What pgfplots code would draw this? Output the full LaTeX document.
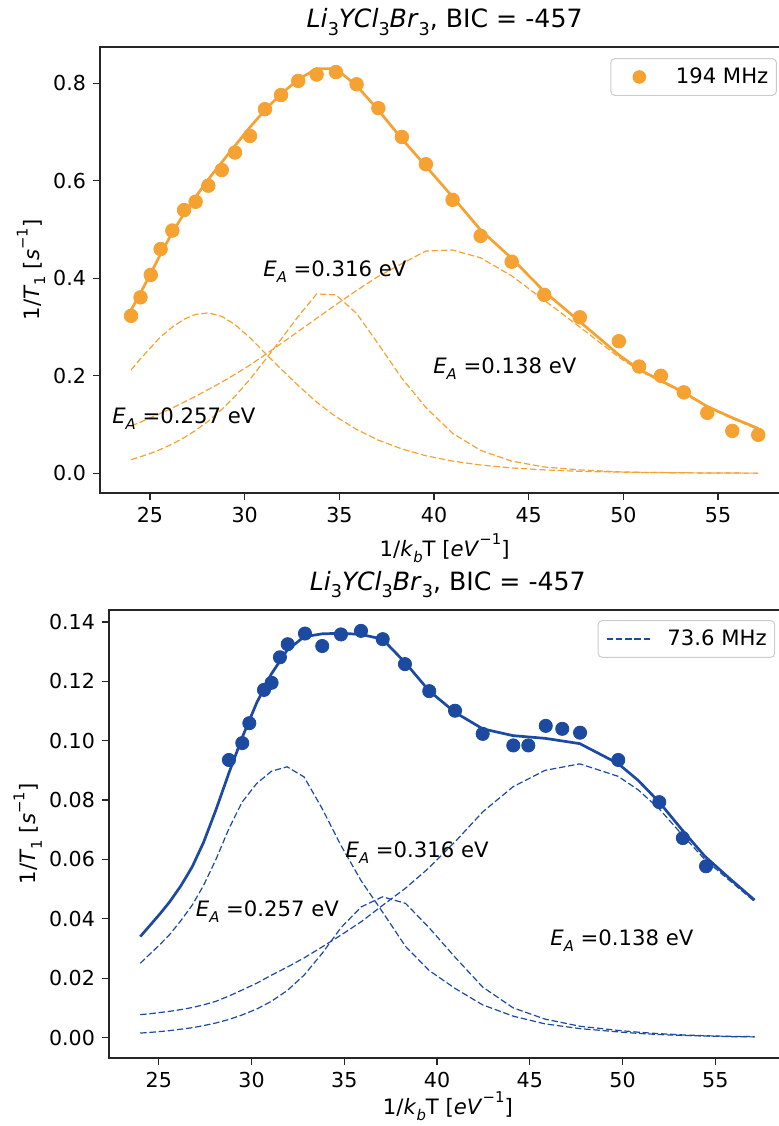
\documentclass[border=0pt]{standalone}
\usepackage{fontspec}
\setmainfont{DejaVu Sans}
\usepackage{pgfplots}
\pgfplotsset{compat=1.18}
\definecolor{myorange}{RGB}{246,162,50}
\definecolor{myblue}{RGB}{27,74,160}
\newcommand{\sub}[1]{\raisebox{-0.28em}{\scalebox{0.7}{#1}}}
\newcommand{\sups}[1]{\raisebox{0.55em}{\scalebox{0.7}{#1}}}
\newcommand{\EA}{\textit{E}\sub{\textit{A}} =}
\tikzset{dashfit/.style={line width=0.6pt, dash pattern=on 3.2pt off 1.4pt}}
\pgfplotsset{
  myaxis/.style={
    scale only axis,
    axis line style={line width=0.8pt, black!85},
    tick align=outside,
    tick pos=left,
    major tick length=3.5pt,
    tick style={line width=0.6pt, black!85},
    xtick={25,30,35,40,45,50,55},
    tick label style={font=\fontsize{10.3}{12}\selectfont},
    /pgf/number format/assume math mode=true,
    label style={font=\fontsize{10.6}{12}\selectfont},
    title style={font=\fontsize{12.6}{15}\selectfont, at={(0.5,1)}, anchor=base, yshift=3.5pt},
    xlabel={1/\textit{k}\sub{\textit{b}}T [\textit{eV}\sups{−1}]},
    ylabel={1/\textit{T}\sub{1} [\textit{s}\sups{−1}]},
    title={\textit{Li}\sub{3}\textit{YCl}\sub{3}\textit{Br}\sub{3}, BIC = -457},
    legend style={draw=black!20, line width=0.5pt, rounded corners=2pt, fill=white,
      font=\fontsize{10.6}{12}\selectfont, inner xsep=4pt, inner ysep=4.5pt,
      nodes={inner sep=0pt}, /tikz/every odd column/.append style={column sep=8pt}},
  },
}
\begin{document}
\begin{tikzpicture}[font=\fontsize{10.6}{12.5}\selectfont]
% ---------------- top panel ----------------
\begin{axis}[myaxis,
  at={(50pt,539.5pt)}, anchor=north west,
  width=344.65pt, height=223pt,
  xmin=22.36, xmax=58.76, ymin=-0.0404, ymax=0.8745,
  ytick={0,0.2,0.4,0.6,0.8},
  yticklabel style={/pgf/number format/.cd, fixed, fixed zerofill, precision=1},
  xlabel style={at={(axis description cs:0.5,-0.1233)}, anchor=center},
  ylabel style={at={(axis description cs:-0.1001,0.5)}, anchor=center},
  legend style={at={(0.982,0.975)}, anchor=north east},
]
\addplot[only marks, mark=*, mark size=3.4pt, mark options={draw=myorange, fill=myorange},
  legend image code/.code={\path[draw=none, fill=none] (0pt,0pt) -- (20.5pt,0pt); \fill[myorange, draw=none] (10.25pt,0pt) circle (3.4pt);}]
coordinates {
(24.0,0.323) (24.5,0.361) (25.04,0.407) (25.56,0.460) (26.18,0.498) (26.8,0.540)
(27.41,0.557) (28.08,0.590) (28.79,0.622) (29.49,0.658) (30.28,0.692) (31.07,0.747)
(31.92,0.776) (32.83,0.805) (33.8,0.818) (34.82,0.823) (35.91,0.798) (37.06,0.749)
(38.3,0.690) (39.57,0.634) (40.98,0.561) (42.46,0.487) (44.1,0.434) (45.82,0.366)
(47.7,0.320) (49.76,0.271) (50.83,0.219) (51.98,0.200) (53.19,0.166) (54.43,0.124)
(55.75,0.087) (57.12,0.079)};
\addlegendentry{194 MHz}
\addplot[myorange, line width=1.35pt, forget plot] coordinates {
(24.0,0.335) (24.5,0.370) (25.04,0.410) (25.56,0.450) (26.18,0.494) (26.8,0.533)
(27.41,0.567) (28.08,0.603) (28.79,0.638) (29.49,0.672) (30.28,0.710) (31.07,0.745)
(31.92,0.778) (32.83,0.808) (33.8,0.830) (34.82,0.830) (35.91,0.795) (37.06,0.745)
(38.3,0.686) (39.57,0.630) (40.98,0.567) (42.46,0.499) (44.1,0.441) (45.82,0.373)
(47.7,0.311) (49.76,0.243) (50.83,0.213) (51.98,0.190) (53.19,0.166) (54.43,0.137)
(55.75,0.114) (57.12,0.092)};
% E_A = 0.257 eV
\addplot[myorange, dashfit, forget plot] coordinates {
(24.0,0.212) (24.5,0.235) (25.04,0.258) (25.56,0.280) (26.18,0.300) (26.8,0.316)
(27.41,0.326) (28.08,0.329) (28.79,0.322) (29.49,0.305) (30.28,0.278) (31.07,0.247)
(31.92,0.214) (32.83,0.180) (33.8,0.146) (34.82,0.116) (35.91,0.090) (37.06,0.068)
(38.3,0.050) (39.57,0.036) (40.98,0.025) (42.46,0.017) (44.1,0.011) (45.82,0.007)
(47.7,0.004) (49.76,0.0025) (50.83,0.002) (51.98,0.0015) (53.19,0.001) (54.43,0.0007)
(55.75,0.0005) (57.12,0.0003)};
% E_A = 0.316 eV
\addplot[myorange, dashfit, forget plot] coordinates {
(24.0,0.028) (24.5,0.034) (25.04,0.041) (25.56,0.049) (26.18,0.060) (26.8,0.073)
(27.41,0.088) (28.08,0.107) (28.79,0.131) (29.49,0.158) (30.28,0.193) (31.07,0.232)
(31.92,0.275) (32.83,0.322) (33.8,0.368) (34.82,0.366) (35.91,0.328) (37.06,0.265)
(38.3,0.195) (39.57,0.135) (40.98,0.082) (42.46,0.047) (44.1,0.025) (45.82,0.013)
(47.7,0.007) (49.76,0.003) (50.83,0.002) (51.98,0.0015) (53.19,0.001) (54.43,0.0007)
(55.75,0.0005) (57.12,0.0003)};
% E_A = 0.138 eV
\addplot[myorange, dashfit, forget plot] coordinates {
(24.0,0.097) (24.5,0.105) (25.04,0.114) (25.56,0.123) (26.18,0.134) (26.8,0.146)
(27.41,0.158) (28.08,0.172) (28.79,0.187) (29.49,0.203) (30.28,0.222) (31.07,0.243)
(31.92,0.266) (32.83,0.291) (33.8,0.318) (34.82,0.346) (35.91,0.375) (37.06,0.404)
(38.3,0.430) (39.57,0.456) (40.98,0.458) (42.46,0.442) (44.1,0.405) (45.82,0.355)
(47.7,0.300) (49.76,0.238) (50.83,0.211) (51.98,0.188) (53.19,0.164) (54.43,0.136)
(55.75,0.112) (57.12,0.090)};
\node[anchor=west, inner sep=0pt] at (axis cs:30.97,0.413) {\EA0.316 eV};
\node[anchor=west, inner sep=0pt] at (axis cs:39.94,0.214) {\EA0.138 eV};
\node[anchor=west, inner sep=0pt] at (axis cs:22.99,0.113) {\EA0.257 eV};
\end{axis}
% ---------------- bottom panel ----------------
\begin{axis}[myaxis,
  at={(54.5pt,258.1pt)}, anchor=north west,
  width=338.85pt, height=224.1pt,
  xmin=22.315, xmax=58.85, ymin=-0.0069, ymax=0.1441,
  ytick={0,0.02,0.04,0.06,0.08,0.10,0.12,0.14},
  yticklabel style={/pgf/number format/.cd, fixed, fixed zerofill, precision=2},
  xlabel style={at={(axis description cs:0.5,-0.107)}, anchor=center},
  ylabel style={at={(axis description cs:-0.120,0.5)}, anchor=center},
  legend style={at={(0.983,0.977)}, anchor=north east},
]
% E_A = 0.257 eV
\addplot[myblue, dashfit,
  legend image code/.code={\draw[myblue, dashfit] (0pt,0pt) -- (22pt,0pt);}] coordinates {
(24.0,0.0250) (24.5,0.0280) (25.04,0.0312) (25.56,0.0345) (26.18,0.0393) (26.8,0.0446)
(27.41,0.0512) (28.08,0.0600) (28.79,0.0705) (29.49,0.0793) (30.28,0.0856) (31.07,0.0897)
(31.92,0.0912) (32.83,0.0878) (33.8,0.0772) (34.82,0.0647) (35.91,0.0528) (37.06,0.0423)
(38.3,0.0307) (39.57,0.0226) (40.98,0.0165) (42.46,0.0110) (44.1,0.0072) (45.82,0.0046)
(47.7,0.0030) (49.76,0.0019) (50.83,0.0014) (51.98,0.0010) (53.19,0.0007) (54.43,0.0005)
(55.75,0.0003) (57.12,0.0002)};
\addlegendentry{73.6 MHz}
% E_A = 0.316 eV
\addplot[myblue, dashfit, forget plot] coordinates {
(24.0,0.0015) (24.5,0.0017) (25.04,0.0020) (25.56,0.0023) (26.18,0.0028) (26.8,0.0033)
(27.41,0.0040) (28.08,0.0049) (28.79,0.0061) (29.49,0.0076) (30.28,0.0096) (31.07,0.0122)
(31.92,0.0158) (32.83,0.0210) (33.8,0.0283) (34.82,0.0370) (35.91,0.0440) (37.06,0.0474)
(38.3,0.0452) (39.57,0.0370) (40.98,0.0270) (42.46,0.0170) (44.1,0.0100) (45.82,0.0062)
(47.7,0.0038) (49.76,0.0024) (50.83,0.0018) (51.98,0.0013) (53.19,0.0009) (54.43,0.0006)
(55.75,0.0004) (57.12,0.0003)};
% E_A = 0.138 eV
\addplot[myblue, dashfit, forget plot] coordinates {
(24.0,0.0077) (24.5,0.0080) (25.04,0.0084) (25.56,0.0088) (26.18,0.0094) (26.8,0.0101)
(27.41,0.0110) (28.08,0.0122) (28.79,0.0140) (29.49,0.0160) (30.28,0.0183) (31.07,0.0210)
(31.92,0.0237) (32.83,0.0268) (33.8,0.0305) (34.82,0.0345) (35.91,0.0390) (37.06,0.0445)
(38.3,0.0503) (39.57,0.0572) (40.98,0.0660) (42.46,0.0760) (44.1,0.0845) (45.82,0.0900)
(47.7,0.0922) (49.76,0.0880) (50.83,0.0835) (51.98,0.0770) (53.19,0.0685) (54.43,0.0600)
(55.75,0.0530) (57.12,0.0458)};
\addplot[myblue, line width=1.35pt, forget plot] coordinates {
(24.0,0.0340) (24.5,0.0376) (25.04,0.0415) (25.56,0.0455) (26.18,0.0510) (26.8,0.0575)
(27.41,0.0657) (28.08,0.0767) (28.79,0.0893) (29.49,0.1010) (30.28,0.1128) (31.07,0.1225)
(31.92,0.1305) (32.83,0.1350) (33.8,0.1360) (34.82,0.1362) (35.91,0.1358) (37.06,0.1342)
(38.3,0.1262) (39.57,0.1168) (40.98,0.1095) (42.46,0.1040) (44.1,0.1017) (45.82,0.1008)
(47.7,0.0990) (49.76,0.0923) (50.83,0.0867) (51.98,0.0793) (53.19,0.0701) (54.43,0.0611)
(55.75,0.0537) (57.12,0.0463)};
\addplot[only marks, mark=*, mark size=3.3pt, mark options={draw=myblue, fill=myblue}, forget plot]
coordinates {
(28.78,0.0935) (29.50,0.0992) (29.88,0.1059) (30.67,0.1171) (31.08,0.1195) (31.53,0.1281)
(31.95,0.1325) (32.88,0.1361) (33.81,0.1319) (34.82,0.1358) (35.90,0.1370) (37.07,0.1342)
(38.27,0.1258) (39.58,0.1167) (40.97,0.1101) (42.46,0.1023) (44.11,0.0984) (44.92,0.0984)
(45.86,0.1050) (46.75,0.1040) (47.71,0.1027) (49.77,0.0935) (51.98,0.0793) (53.25,0.0672)
(54.50,0.0577)};
\node[anchor=west, inner sep=0pt] at (axis cs:35.05,0.0622) {\EA0.316 eV};
\node[anchor=west, inner sep=0pt] at (axis cs:26.98,0.0423) {\EA0.257 eV};
\node[anchor=west, inner sep=0pt] at (axis cs:46.09,0.0325) {\EA0.138 eV};
\end{axis}
\pgfresetboundingbox
\useasboundingbox (0,0) rectangle (389pt,563pt);
\end{tikzpicture}
\end{document}
